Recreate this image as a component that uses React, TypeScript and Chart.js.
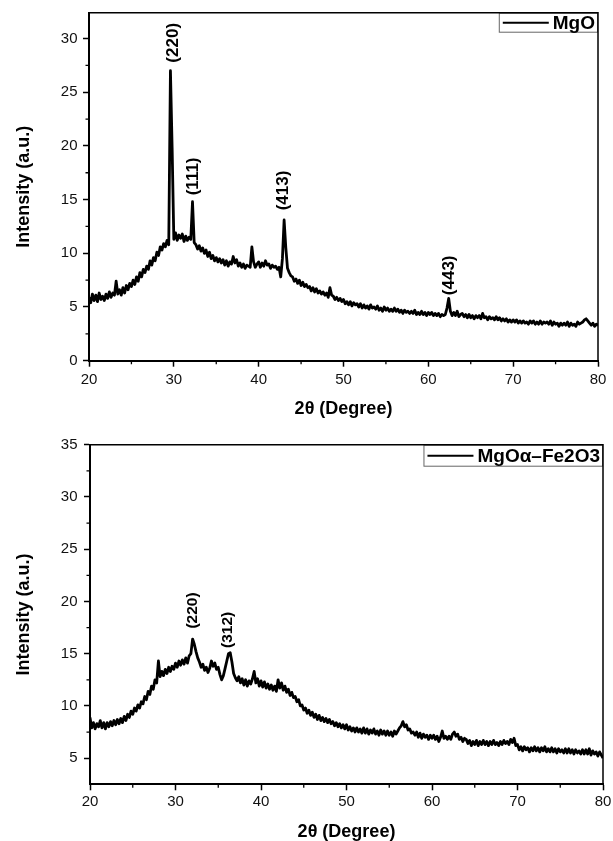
import React, { useEffect, useRef } from "react";
import { Chart, registerables } from "chart.js";

Chart.register(...registerables);

const FONT = "'Liberation Sans', Arial, Helvetica, sans-serif";

// 2θ sampling grid
const THETA_START = 20;
const THETA_STEP = 0.2;

// MgO pattern (2θ = 20.0 … 80.0, step 0.2)
const mgoIntensity = [
  5.9, 5.4, 6.2, 5.6, 6.1, 5.5, 6.3, 5.7, 6.0, 5.6,
  6.2, 5.8, 6.4, 5.9, 6.3, 6.1, 7.4, 6.2, 6.6, 6.1,
  6.8, 6.3, 7.0, 6.6, 7.2, 6.9, 7.5, 7.1, 7.8, 7.4,
  8.2, 7.8, 8.5, 8.2, 8.8, 8.5, 9.3, 8.9, 9.6, 9.3,
  10.1, 9.8, 10.6, 10.3, 10.9, 10.6, 11.2, 10.8, 27.0, 19.8,
  11.3, 11.9, 11.2, 11.7, 11.4, 11.8, 11.1, 11.6, 11.2, 11.5,
  11.3, 14.8, 11.0, 10.8, 10.4, 10.7, 10.2, 10.5, 10.0, 10.3,
  9.7, 10.1, 9.5, 9.8, 9.3, 9.6, 9.2, 9.5, 9.1, 9.4,
  8.9, 9.3, 8.8, 9.2, 9.0, 9.7, 9.1, 9.4, 8.8, 9.1,
  8.7, 9.0, 8.6, 8.9, 8.8, 8.7, 10.6, 9.2, 8.7, 9.0,
  9.2, 8.7, 9.1, 8.8, 9.3, 8.9, 9.0, 8.6, 8.9, 8.7,
  8.8, 8.5, 8.7, 7.8, 9.5, 13.1, 10.5, 8.6, 8.2, 7.9,
  7.8, 7.4, 7.6, 7.2, 7.5, 7.0, 7.3, 6.9, 7.1, 6.8,
  6.9, 6.5, 6.8, 6.4, 6.7, 6.3, 6.5, 6.2, 6.4, 6.1,
  6.3, 5.9, 6.8, 6.1, 6.0, 5.7, 5.9, 5.6, 5.8, 5.5,
  5.7, 5.3, 5.5, 5.2, 5.5, 5.1, 5.4, 5.2, 5.3, 5.0,
  5.3, 4.9, 5.2, 4.9, 5.1, 4.8, 5.2, 4.9, 5.0, 4.8,
  5.1, 4.7, 4.9, 4.6, 5.0, 4.7, 4.9, 4.6, 4.8, 4.6,
  4.9, 4.6, 4.8, 4.5, 4.7, 4.4, 4.7, 4.5, 4.6, 4.4,
  4.6, 4.4, 4.7, 4.3, 4.5, 4.3, 4.6, 4.3, 4.5, 4.2,
  4.5, 4.3, 4.5, 4.2, 4.4, 4.2, 4.4, 4.1, 4.3, 4.2,
  4.3, 4.9, 5.8, 4.6, 4.2, 4.5, 4.2, 4.6, 4.1, 4.3,
  4.4, 4.1, 4.3, 4.0, 4.3, 4.0, 4.2, 3.9, 4.2, 4.0,
  4.2, 3.9, 4.4, 4.0, 4.1, 3.8, 4.1, 3.9, 4.0, 3.8,
  4.1, 3.8, 4.0, 3.7, 3.9, 3.7, 3.9, 3.6, 3.8, 3.6,
  3.8, 3.6, 3.8, 3.5, 3.7, 3.5, 3.7, 3.5, 3.6, 3.4,
  3.7, 3.5, 3.7, 3.4, 3.6, 3.4, 3.7, 3.4, 3.6, 3.5,
  3.6, 3.4, 3.7, 3.3, 3.6, 3.4, 3.5, 3.2, 3.5, 3.3,
  3.5, 3.3, 3.6, 3.2, 3.5, 3.3, 3.4, 3.2, 3.6, 3.4,
  3.5, 3.6, 3.8, 3.9, 3.7, 3.5, 3.3, 3.5, 3.2, 3.4,
  3.3,
];

// MgO α-Fe2O3 pattern (2θ = 20.0 … 80.0, step 0.2)
const mgoFeIntensity = [
  8.9, 7.9, 8.4, 7.8, 8.3, 8.0, 8.6, 7.9, 8.4, 7.8,
  8.4, 8.0, 8.5, 8.1, 8.6, 8.2, 8.7, 8.3, 8.8, 8.4,
  9.0, 8.6, 9.2, 8.9, 9.5, 9.2, 9.8, 9.5, 10.1, 9.8,
  10.4, 10.2, 10.9, 10.6, 11.4, 11.1, 11.9, 11.6, 12.5, 12.2,
  14.3, 12.8, 13.3, 12.9, 13.5, 13.1, 13.7, 13.3, 13.8, 13.5,
  14.1, 13.7, 14.3, 13.9, 14.4, 14.0, 14.6, 14.1, 14.8, 15.0,
  16.4, 15.9, 15.2, 14.6, 14.2, 13.7, 14.0, 13.4, 13.7, 13.2,
  13.6, 14.3, 13.8, 14.1, 13.5, 13.7, 13.0, 12.5, 12.9, 13.6,
  14.3, 15.0, 15.1, 14.2, 13.1, 12.7, 12.4, 12.8, 12.2, 12.6,
  12.0, 12.5, 11.9, 12.4, 12.1, 12.6, 13.3, 12.2, 12.6, 11.9,
  12.4, 11.8, 12.3, 11.7, 12.1, 11.6, 12.0, 11.5, 11.9, 11.4,
  12.5, 11.7, 12.2, 11.5, 11.9, 11.3, 11.6, 11.0, 11.3, 10.8,
  10.9, 10.4, 10.6, 10.0, 10.1, 9.6, 9.8, 9.3, 9.6, 9.1,
  9.4, 8.9, 9.2, 8.7, 9.1, 8.6, 8.9, 8.5, 8.8, 8.4,
  8.7, 8.3, 8.5, 8.1, 8.4, 8.0, 8.3, 7.9, 8.2, 7.8,
  8.2, 7.7, 8.0, 7.6, 7.9, 7.5, 7.9, 7.5, 7.8, 7.4,
  7.9, 7.4, 7.8, 7.3, 7.7, 7.4, 7.8, 7.3, 7.6, 7.2,
  7.7, 7.3, 7.6, 7.2, 7.6, 7.2, 7.5, 7.1, 7.6, 7.3,
  7.6, 7.9, 8.1, 8.5, 8.0, 8.2, 7.7, 7.8, 7.4, 7.5,
  7.2, 7.5, 7.0, 7.4, 6.9, 7.3, 7.0, 7.2, 6.8, 7.2,
  6.9, 7.2, 6.8, 7.1, 6.6, 7.0, 7.6, 6.9, 7.1, 6.8,
  7.1, 6.8, 7.3, 7.5, 7.1, 7.3, 6.8, 7.0, 6.6, 6.9,
  6.8, 6.4, 6.7, 6.2, 6.6, 6.3, 6.7, 6.2, 6.6, 6.3,
  6.7, 6.3, 6.6, 6.2, 6.6, 6.3, 6.7, 6.3, 6.5, 6.2,
  6.6, 6.3, 6.7, 6.4, 6.6, 6.3, 6.8, 6.5, 6.9, 6.2,
  6.3, 5.8, 6.1, 5.7, 6.1, 5.8, 6.0, 5.6, 6.0, 5.7,
  6.1, 5.7, 6.0, 5.6, 6.0, 5.7, 6.1, 5.6, 5.9, 5.6,
  6.0, 5.6, 5.9, 5.5, 5.9, 5.6, 5.8, 5.5, 5.9, 5.5,
  5.9, 5.5, 5.8, 5.4, 5.8, 5.5, 5.7, 5.4, 5.8, 5.4,
  5.8, 5.4, 5.9, 5.3, 5.7, 5.4, 5.6, 5.2, 5.6, 5.3,
  5.0,
];

// Axis ticks
const xTicks = [20, 30, 40, 50, 60, 70, 80];
const xMinorTicks = [25, 35, 45, 55, 65, 75];
const yTicksTop = [0, 5, 10, 15, 20, 25, 30];
const yMinorTop = [2.5, 7.5, 12.5, 17.5, 22.5, 27.5];
const yTicksBottom = [5, 10, 15, 20, 25, 30, 35];
const yMinorBottom = [7.5, 12.5, 17.5, 22.5, 27.5, 32.5];

// Peak (hkl) annotations
const mgoPeakLabels = ["(220)", "(111)", "(413)", "(443)"];
const mgoPeakTheta = [29.9, 32.25, 42.9, 62.5];
const mgoPeakIntensity = [27.75, 15.4, 14.0, 6.1];
const mgoFePeakLabels = ["(220)", "(312)"];
const mgoFePeakTheta = [32.05, 36.05];
const mgoFePeakIntensity = [17.4, 15.55];

type PanelCfg = {
  values: number[];
  legend: string;
  yMin: number;
  yMax: number;
  yTicks: number[];
  yMinor: number[];
  peakLabels: string[];
  peakTheta: number[];
  peakIntensity: number[];
  peakFont: number;
  padding: { top: number; right: number; left: number; bottom: number };
  yWidth: number;
  xHeight: number;
  xTickPad: number;
  yTickPad: number;
  xTitlePad: number;
  legendH: number;
};

function makeDecor(cfg: PanelCfg) {
  return {
    id: "decor",
    afterDatasetsDraw(chart: any) {
      const { ctx, chartArea: a, scales } = chart;
      const xs = scales.x;
      const ys = scales.y;
      ctx.save();
      // minor ticks
      ctx.strokeStyle = "#000";
      ctx.lineWidth = 1.3;
      ctx.beginPath();
      xMinorTicks.forEach((v) => {
        const px = xs.getPixelForValue(v);
        ctx.moveTo(px, a.bottom);
        ctx.lineTo(px, a.bottom + 3.5);
      });
      cfg.yMinor.forEach((v) => {
        const py = ys.getPixelForValue(v);
        ctx.moveTo(a.left, py);
        ctx.lineTo(a.left - 3.5, py);
      });
      ctx.stroke();
      // peak labels
      ctx.fillStyle = "#000";
      ctx.font = `bold ${cfg.peakFont}px ${FONT}`;
      ctx.textAlign = "left";
      ctx.textBaseline = "middle";
      cfg.peakLabels.forEach((lab, i) => {
        const px = xs.getPixelForValue(cfg.peakTheta[i]);
        const py = ys.getPixelForValue(cfg.peakIntensity[i]);
        ctx.save();
        ctx.translate(px, py);
        ctx.rotate(-Math.PI / 2);
        ctx.fillText(lab, 0, 0);
        ctx.restore();
      });
      // legend box
      ctx.font = `bold 19px ${FONT}`;
      const tw = ctx.measureText(cfg.legend).width;
      const lineLen = 46;
      const boxW = 4 + lineLen + 4 + tw + 3;
      const boxH = cfg.legendH;
      const bx = a.right - boxW;
      const by = a.top;
      ctx.fillStyle = "#fff";
      ctx.fillRect(bx, by, boxW, boxH);
      ctx.strokeStyle = "#666";
      ctx.lineWidth = 1;
      ctx.strokeRect(bx + 0.5, by + 0.5, boxW - 1, boxH - 1);
      ctx.strokeStyle = "#000";
      ctx.lineWidth = 2;
      ctx.beginPath();
      ctx.moveTo(bx + 4, by + boxH / 2);
      ctx.lineTo(bx + 4 + lineLen, by + boxH / 2);
      ctx.stroke();
      ctx.fillStyle = "#000";
      ctx.textBaseline = "middle";
      ctx.fillText(cfg.legend, bx + 4 + lineLen + 4, by + boxH / 2 + 1);
      // frame (top & right)
      ctx.strokeStyle = "#000";
      ctx.lineWidth = 1.5;
      ctx.beginPath();
      ctx.moveTo(a.left, a.top);
      ctx.lineTo(a.right, a.top);
      ctx.lineTo(a.right, a.bottom);
      ctx.stroke();
      ctx.restore();
    },
  };
}

function Panel({ cfg, top, height }: { cfg: PanelCfg; top: number; height: number }) {
  const ref = useRef<HTMLCanvasElement | null>(null);
  useEffect(() => {
    if (!ref.current) return;
    const points = cfg.values.map((y, i) => ({
      x: Math.round((THETA_START + i * THETA_STEP) * 10) / 10,
      y,
    }));
    const tickFont = { family: FONT, size: 15 };
    const titleFont = { family: FONT, size: 18, weight: "bold" as const, lineHeight: 1 };
    const chart = new Chart(ref.current, {
      type: "line",
      data: {
        datasets: [
          {
            label: cfg.legend,
            data: points,
            borderColor: "#000",
            borderWidth: 2.8,
            borderJoinStyle: "round",
            pointRadius: 0,
            tension: 0,
            fill: false,
          },
        ],
      },
      options: {
        animation: false,
        responsive: true,
        maintainAspectRatio: false,
        events: [],
        layout: { padding: cfg.padding },
        plugins: { legend: { display: false }, tooltip: { enabled: false } },
        scales: {
          x: {
            type: "linear",
            min: 20,
            max: 80,
            afterBuildTicks: (s: any) => {
              s.ticks = xTicks.map((value) => ({ value }));
            },
            afterFit: (s: any) => {
              s.height = cfg.xHeight;
              s.paddingLeft = 0;
              s.paddingRight = 0;
            },
            ticks: {
              font: tickFont,
              color: "#111",
              padding: cfg.xTickPad,
              maxRotation: 0,
              autoSkip: false,
              callback: (v: any) => String(v),
            },
            grid: {
              drawOnChartArea: false,
              drawTicks: true,
              tickLength: 6,
              tickColor: "#000",
              tickWidth: 1.5,
            },
            border: { display: true, color: "#000", width: 2 },
            title: {
              display: true,
              text: "2θ (Degree)",
              font: titleFont,
              color: "#000",
              padding: { top: 0, bottom: cfg.xTitlePad },
            },
          },
          y: {
            type: "linear",
            min: cfg.yMin,
            max: cfg.yMax,
            afterBuildTicks: (s: any) => {
              s.ticks = cfg.yTicks.map((value) => ({ value }));
            },
            afterFit: (s: any) => {
              s.width = cfg.yWidth;
              s.paddingTop = 0;
              s.paddingBottom = 0;
            },
            ticks: {
              font: tickFont,
              color: "#111",
              padding: cfg.yTickPad,
              autoSkip: false,
              callback: (v: any) => String(v),
            },
            grid: {
              drawOnChartArea: false,
              drawTicks: true,
              tickLength: 6,
              tickColor: "#000",
              tickWidth: 1.5,
            },
            border: { display: true, color: "#000", width: 2 },
            title: {
              display: true,
              text: "Intensity (a.u.)",
              font: titleFont,
              color: "#000",
              padding: { top: 15, bottom: 0 },
            },
          },
        },
      },
      plugins: [makeDecor(cfg)],
    } as any);
    return () => chart.destroy();
  }, [cfg]);
  return (
    <div style={{ position: "absolute", left: 0, top, width: 613, height }}>
      <canvas ref={ref} />
    </div>
  );
}

const topCfg: PanelCfg = {
  values: mgoIntensity,
  legend: "MgO",
  yMin: 0,
  yMax: 32.4,
  yTicks: yTicksTop,
  yMinor: yMinorTop,
  peakLabels: mgoPeakLabels,
  peakTheta: mgoPeakTheta,
  peakIntensity: mgoPeakIntensity,
  peakFont: 17,
  padding: { top: 12.7, right: 15, left: 0, bottom: 0 },
  yWidth: 89,
  xHeight: 59.3,
  xTickPad: 4,
  yTickPad: 5.5,
  xTitlePad: 2,
  legendH: 20,
};

const bottomCfg: PanelCfg = {
  values: mgoFeIntensity,
  legend: "MgOα–Fe2O3",
  yMin: 2.5,
  yMax: 35,
  yTicks: yTicksBottom,
  yMinor: yMinorBottom,
  peakLabels: mgoFePeakLabels,
  peakTheta: mgoFePeakTheta,
  peakIntensity: mgoFePeakIntensity,
  peakFont: 15.5,
  padding: { top: 16.7, right: 10, left: 0, bottom: 0 },
  yWidth: 90,
  xHeight: 56.7,
  xTickPad: 2.5,
  yTickPad: 6.5,
  xTitlePad: 0,
  legendH: 22,
};

export default function App() {
  return (
    <div style={{ position: "absolute", left: 0, top: 0, width: 613, height: 841, background: "#fff" }}>
      <Panel cfg={topCfg} top={0} height={420} />
      <Panel cfg={bottomCfg} top={428} height={413} />
    </div>
  );
}
